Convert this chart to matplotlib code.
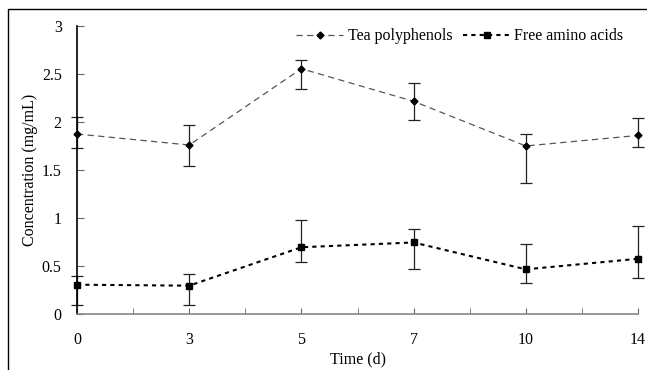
import matplotlib
matplotlib.use("Agg")
import matplotlib.pyplot as plt
from matplotlib.lines import Line2D
import numpy as np

days = ["0", "3", "5", "7", "10", "14"]

tea = [1.87, 1.755, 2.55, 2.21, 1.745, 1.855]
tea_err_low = [0.15, 0.22, 0.21, 0.19, 0.385, 0.12]
tea_err_high = [0.18, 0.21, 0.09, 0.19, 0.125, 0.18]

amino = [0.30, 0.29, 0.69, 0.74, 0.46, 0.57]
amino_err_low = [0.21, 0.20, 0.15, 0.28, 0.14, 0.20]
amino_err_high = [0.09, 0.12, 0.28, 0.14, 0.26, 0.34]

plt.rcParams["font.family"] = ["Liberation Serif", "DejaVu Serif"]

fig = plt.figure(figsize=(6.47, 3.70), dpi=100)
ax = fig.add_axes([77 / 647, 1 - 313.5 / 370, 561 / 647, 288 / 370])

x = np.arange(len(days))

# error bars first, without lines, so the legend shows only line + marker
err_style = dict(fmt="none", ecolor="#222222", elinewidth=0.9, capsize=4,
                 capthick=0.9, clip_on=False, zorder=2)
ax.errorbar(x, tea, yerr=[tea_err_low, tea_err_high], **err_style)
ax.errorbar(x, amino, yerr=[amino_err_low, amino_err_high], **err_style)

ax.plot(x, tea, color="#555555", linestyle=(0, (5, 3.5)), linewidth=0.9,
        marker="D", markersize=3.5, markerfacecolor="black",
        markeredgecolor="black", label="Tea polyphenols", clip_on=False, zorder=3)
ax.plot(x, amino, color="black", linestyle=(0, (2, 2)), linewidth=1.5,
        marker="s", markersize=4.5, markerfacecolor="black",
        markeredgecolor="black", label="Free amino acids", clip_on=False, zorder=3)

ax.set_xlim(0, len(days) - 1)
ax.set_ylim(0, 3)
ax.set_xticks(x)
ax.set_xticklabels(days)
ax.set_xticks(np.arange(0.5, len(days) - 1, 1.0), minor=True)
ax.set_yticks(np.arange(0, 3.01, 0.5))
ax.set_yticklabels(["0", "0.5", "1", "1.5", "2", "2.5", "3"])

ax.spines["top"].set_visible(False)
ax.spines["right"].set_visible(False)
ax.spines["left"].set_color("black")
ax.spines["left"].set_linewidth(1.2)
ax.spines["bottom"].set_color("#888888")
ax.spines["bottom"].set_linewidth(1.2)

ax.tick_params(axis="x", which="both", direction="in", length=4, color="#666666",
               labelsize=11.5, pad=13)
ax.tick_params(axis="y", direction="in", length=5, color="#666666",
               labelsize=11.5, pad=11)

ax.set_xlabel("Time (d)", fontsize=11.5, labelpad=3)
ax.set_ylabel("Concentration (mg/mL)", fontsize=11.5, labelpad=3)

ax.legend(loc="upper right", bbox_to_anchor=(1.0, 1.04), ncol=2, frameon=False,
          fontsize=11.5, handlelength=2.9, handletextpad=0.3, columnspacing=0.7,
          numpoints=1)

# outer frame (left and top edges only)
fig.add_artist(Line2D([8 / 647, 8 / 647, 1.0], [0.0, 1 - 9 / 370, 1 - 9 / 370],
                      transform=fig.transFigure, color="black", linewidth=1.0))

fig.savefig("out.png", dpi=100)
